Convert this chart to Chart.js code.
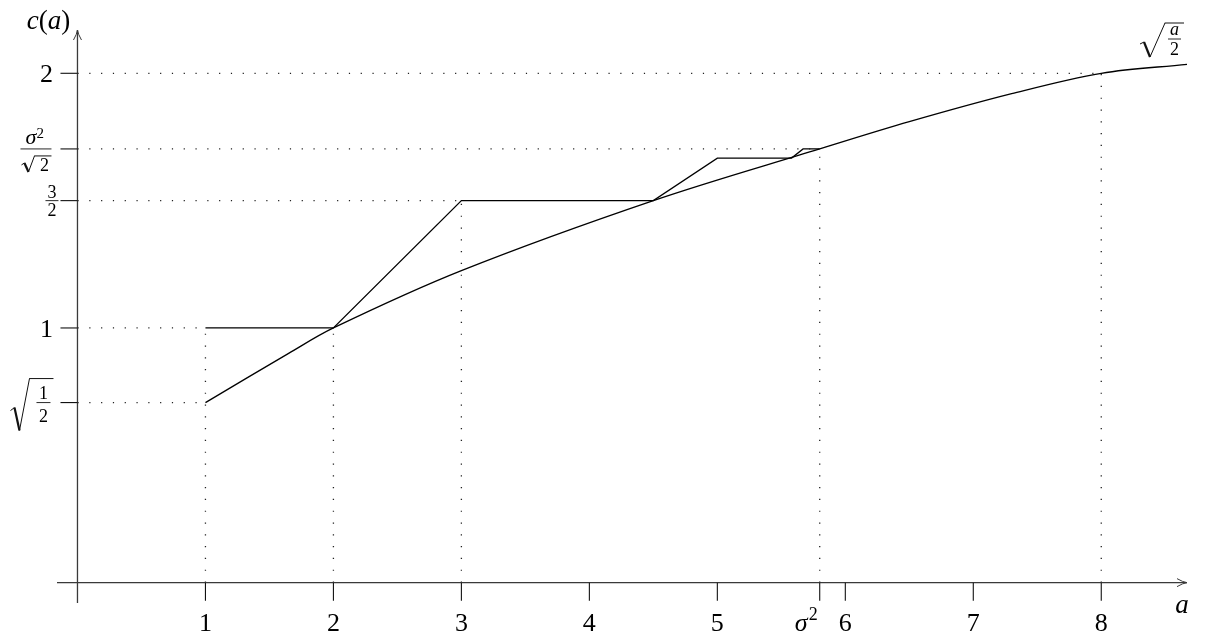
<!DOCTYPE html>
<html>
<head>
<meta charset="utf-8">
<title>c(a)</title>
<script src="https://cdn.jsdelivr.net/npm/chart.js@4.4.1/dist/chart.umd.min.js"></script>
<style>
  html, body { margin: 0; padding: 0; background: #fff; }
  canvas { display: block; }
</style>
</head>
<body>
<canvas id="plot" width="1207" height="635"></canvas>
<script>
// ----------------------------
// Data
// ----------------------------
// the sqrt(a/2) curve, sampled
const curveA = [1, 1.65, 2, 3, 4.5, 5.8, 6.5, 7.3, 8, 8.67];
const curveC = [0.707, 0.90, 1, 1.225, 1.5, 1.703, 1.81, 1.92, 2, 2.035];

// staircase upper bound
const stepA = [1, 2, 3, 4.5, 5, 5.58, 5.67, 5.8];
const stepC = [1, 1, 1.5, 1.5, 1.667, 1.667, 1.703, 1.703];

// axis ticks
const xTicks = [1, 2, 3, 4, 5, 6, 7, 8];
const sigmaSq = 5.8;
const yTicks = [0.707, 1, 1.5, 1.703, 2];

// dotted guides: horizontal [level, right end], vertical [a, top]
const hGuides = [[2, 8], [1.703, 5.8], [1.5, 3], [1, 1], [0.707, 1]];
const vGuides = [[1, 1], [2, 1], [3, 1.5], [5.8, 1.703], [8, 2]];

const SERIF = '"Liberation Serif", "DejaVu Serif", serif';

function toPoints(xs, ys) {
    return xs.map((x, i) => ({ x: x, y: ys[i] }));
}

function guidePoints() {
    const pts = [];
    hGuides.forEach(g => {
        pts.push({ x: 0, y: g[0] }, { x: g[1], y: g[0] }, { x: g[1], y: null });
    });
    vGuides.forEach(g => {
        pts.push({ x: g[0], y: 0 }, { x: g[0], y: g[1] }, { x: g[0], y: null });
    });
    return pts;
}

// ----------------------------
// Text helpers
// ----------------------------
function setFont(ctx, size, italic) {
    ctx.font = (italic ? 'italic ' : '') + size + 'px ' + SERIF;
}

function text(ctx, s, x, y, size, italic, align) {
    setFont(ctx, size, italic);
    ctx.textAlign = align || 'center';
    ctx.textBaseline = 'alphabetic';
    ctx.fillText(s, x, y);
}

// run of [string, italic] pieces centred on x
function mixed(ctx, parts, x, y, size) {
    let w = 0;
    parts.forEach(p => { setFont(ctx, size, p[1]); w += ctx.measureText(p[0]).width; });
    let cx = x - w / 2;
    ctx.textAlign = 'left';
    ctx.textBaseline = 'alphabetic';
    parts.forEach(p => {
        setFont(ctx, size, p[1]);
        ctx.fillText(p[0], cx, y);
        cx += ctx.measureText(p[0]).width;
    });
}

function line(ctx, x1, y1, x2, y2, w) {
    ctx.lineWidth = w;
    ctx.beginPath();
    ctx.moveTo(x1, y1);
    ctx.lineTo(x2, y2);
    ctx.stroke();
}

// radical sign: p = [start, kink, bottom, top], overline runs to xEnd
function radical(ctx, p, xEnd) {
    line(ctx, p[0][0], p[0][1], p[1][0], p[1][1], 1);
    line(ctx, p[1][0], p[1][1], p[2][0], p[2][1], 2.2);
    line(ctx, p[2][0], p[2][1], p[3][0], p[3][1], 1);
    line(ctx, p[3][0] - 0.3, p[3][1], xEnd, p[3][1], 1);
}

// ----------------------------
// Axes + labels plugin
// ----------------------------
const axesPlugin = {
    id: 'mathAxes',
    afterDatasetsDraw(chart) {
        const ctx = chart.ctx;
        const xs = chart.scales.x, ys = chart.scales.y;
        const x0 = xs.getPixelForValue(0), y0 = ys.getPixelForValue(0);
        const left = chart.chartArea.left, right = chart.chartArea.right;
        const top = chart.chartArea.top, bottom = chart.chartArea.bottom;

        ctx.save();
        ctx.strokeStyle = '#3a3a3a';
        ctx.fillStyle = '#000';
        ctx.lineCap = 'butt';

        // axis lines
        line(ctx, left, y0, right, y0, 1.3);
        line(ctx, x0, bottom, x0, top, 1.3);

        // arrow heads
        ctx.lineWidth = 1;
        ctx.beginPath();
        ctx.moveTo(right - 10, y0 - 4);
        ctx.quadraticCurveTo(right - 4, y0 - 0.5, right, y0);
        ctx.quadraticCurveTo(right - 4, y0 + 0.5, right - 10, y0 + 4);
        ctx.moveTo(x0 - 4, top + 10);
        ctx.quadraticCurveTo(x0 - 0.5, top + 4, x0, top);
        ctx.quadraticCurveTo(x0 + 0.5, top + 4, x0 + 4, top + 10);
        ctx.stroke();

        // tick marks
        ctx.strokeStyle = '#111';
        xTicks.concat([sigmaSq]).forEach(v => {
            const px = xs.getPixelForValue(v);
            line(ctx, px, y0, px, y0 + 18, 1.1);
        });
        yTicks.forEach(v => {
            const py = ys.getPixelForValue(v);
            line(ctx, x0 - 17, py, x0, py, 1.1);
        });

        // x tick labels
        xTicks.forEach(v => {
            text(ctx, String(v), xs.getPixelForValue(v), y0 + 48, 26, false);
        });
        const sx = xs.getPixelForValue(sigmaSq);
        text(ctx, 'σ', sx - 25, y0 + 48, 26, true, 'left');
        text(ctx, '2', sx - 11, y0 + 37, 18, false, 'left');
        text(ctx, 'a', right - 5, y0 + 30, 27, true, 'center');

        // y tick labels
        const lx = x0 - 31;
        let py = ys.getPixelForValue(2);
        text(ctx, '2', lx, py + 9, 26, false);
        py = ys.getPixelForValue(1);
        text(ctx, '1', lx, py + 9, 26, false);

        // 3/2
        py = ys.getPixelForValue(1.5);
        line(ctx, x0 - 32, py, x0 - 19, py, 0.9);
        text(ctx, '3', x0 - 25.5, py - 3, 18, false);
        text(ctx, '2', x0 - 25.5, py + 15, 18, false);

        // sigma^2 / sqrt 2
        py = ys.getPixelForValue(1.703);
        line(ctx, x0 - 57, py, x0 - 26, py, 0.9);
        text(ctx, 'σ', x0 - 52, py - 5, 22, true, 'left');
        text(ctx, '2', x0 - 41, py - 11, 15, false, 'left');
        radical(ctx, [[x0 - 56, py + 16], [x0 - 53, py + 14], [x0 - 49, py + 23], [x0 - 43, py + 7]], x0 - 26);
        text(ctx, '2', x0 - 33, py + 22, 18, false);

        // sqrt(1/2)
        py = ys.getPixelForValue(0.707);
        radical(ctx, [[x0 - 67, py + 8], [x0 - 63, py + 5], [x0 - 58, py + 28], [x0 - 48, py - 24]], x0 - 24);
        line(ctx, x0 - 41, py, x0 - 27, py, 0.9);
        text(ctx, '1', x0 - 34, py - 4, 18, false);
        text(ctx, '2', x0 - 34, py + 19, 18, false);

        // c(a)
        mixed(ctx, [['c', true], ['(', false], ['a', true], [')', false]], x0 - 29, top - 1, 27);

        // sqrt(a/2) near the curve end
        const ex = xs.getPixelForValue(curveA[curveA.length - 1]);
        const ey = ys.getPixelForValue(2.17);
        radical(ctx, [[ex - 47, ey + 14], [ex - 43, ey + 12], [ex - 37, ey + 27], [ex - 22, ey - 7]], ex - 3);
        line(ctx, ex - 19, ey + 9, ex - 6, ey + 9, 0.9);
        text(ctx, 'a', ex - 12.5, ey + 5, 18, true);
        text(ctx, '2', ex - 12.5, ey + 25, 18, false);

        ctx.restore();
    }
};

// ----------------------------
// Chart
// ----------------------------
const ctx = document.getElementById('plot').getContext('2d');
new Chart(ctx, {
    type: 'scatter',
    data: {
        datasets: [
            {
                label: 'guides',
                data: guidePoints(),
                showLine: true,
                spanGaps: false,
                borderColor: '#222',
                borderWidth: 1.3,
                borderDash: [1.2, 10.6],
                pointRadius: 0,
                clip: false
            },
            {
                label: 'sqrt(a/2)',
                data: toPoints(curveA, curveC),
                showLine: true,
                borderColor: '#000',
                borderWidth: 1.3,
                tension: 0.35,
                pointRadius: 0,
                clip: false
            },
            {
                label: 'c(a)',
                data: toPoints(stepA, stepC),
                showLine: true,
                borderColor: '#000',
                borderWidth: 1.3,
                tension: 0,
                pointRadius: 0,
                clip: false
            }
        ]
    },
    options: {
        responsive: false,
        animation: false,
        layout: { padding: { left: 57, right: 20, top: 30, bottom: 32 } },
        plugins: {
            legend: { display: false },
            tooltip: { enabled: false }
        },
        scales: {
            x: { type: 'linear', min: -0.16, max: 8.67, display: false },
            y: { type: 'linear', min: -0.08, max: 2.17, display: false }
        }
    },
    plugins: [axesPlugin]
});
</script>
</body>
</html>
